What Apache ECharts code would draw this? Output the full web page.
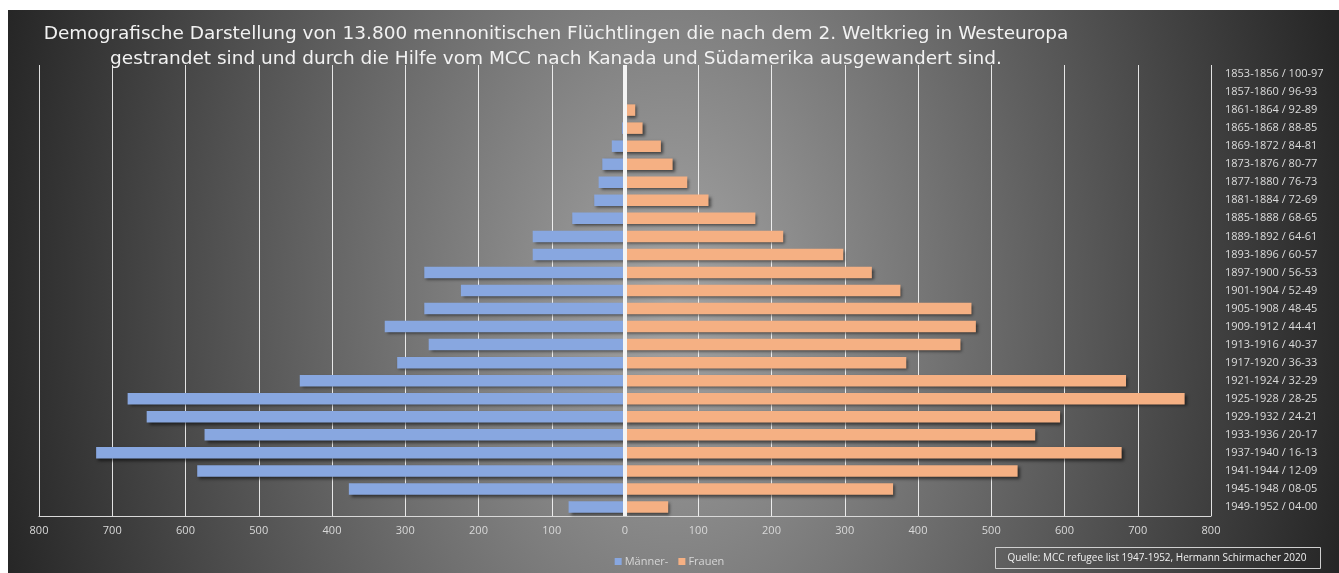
<!DOCTYPE html>
<html>
<head>
<meta charset="utf-8">
<script src="https://cdn.jsdelivr.net/npm/echarts@6/dist/echarts.min.js"></script>
<style>
  html, body { margin: 0; padding: 0; background: #ffffff; }
  #bg { position: absolute; left: 8px; top: 10px; width: 1331px; height: 563px;
        background: radial-gradient(ellipse 690px 1000px at 662px 290px, #a4a4a4 0%, #262626 100%); }
  #chart { position: absolute; left: 0; top: 0; width: 1339px; height: 573px; }
</style>
</head>
<body>
<div id="bg"></div>
<div id="chart"></div>
<script>
const categories = [
  '1853-1856 / 100-97', '1857-1860 / 96-93', '1861-1864 / 92-89', '1865-1868 / 88-85',
  '1869-1872 / 84-81', '1873-1876 / 80-77', '1877-1880 / 76-73', '1881-1884 / 72-69',
  '1885-1888 / 68-65', '1889-1892 / 64-61', '1893-1896 / 60-57', '1897-1900 / 56-53',
  '1901-1904 / 52-49', '1905-1908 / 48-45', '1909-1912 / 44-41', '1913-1916 / 40-37',
  '1917-1920 / 36-33', '1921-1924 / 32-29', '1925-1928 / 28-25', '1929-1932 / 24-21',
  '1933-1936 / 20-17', '1937-1940 / 16-13', '1941-1944 / 12-09', '1945-1948 / 08-05',
  '1949-1952 / 04-00'
];
const maenner = [0, 0, 0, 4, 18, 31, 36, 42, 72, 126, 126, 274, 224, 274, 328, 268, 311, 444, 679, 653, 574, 722, 584, 377, 77];
const frauen  = [0, 0, 14, 24, 49, 65, 85, 114, 178, 216, 298, 337, 376, 473, 479, 458, 384, 684, 764, 594, 560, 678, 536, 366, 59];
const xTicks = [-800, -700, -600, -500, -400, -300, -200, -100, 0, 100, 200, 300, 400, 500, 600, 700, 800];
const titleText = 'Demografische Darstellung von 13.800 mennonitischen Flüchtlingen die nach dem 2. Weltkrieg in Westeuropa\ngestrandet sind und durch die Hilfe vom MCC nach Kanada und Südamerika ausgewandert sind.';
const sourceText = 'Quelle: MCC refugee list 1947-1952, Hermann Schirmacher 2020';

const FONT = 'Open Sans';
const chart = echarts.init(document.getElementById('chart'));
const shadow = { shadowColor: 'rgba(0,0,0,0.55)', shadowBlur: 3, shadowOffsetX: 2, shadowOffsetY: 2 };

chart.setOption({
  backgroundColor: 'transparent',
  animation: false,
  title: {
    text: titleText,
    left: 551, top: 17,
    textAlign: 'center',
    textStyle: { fontFamily: 'DejaVu Sans', fontSize: 18.5, fontWeight: 'normal', color: '#f2f2f2', lineHeight: 25 }
  },
  legend: {
    data: ['Männer-', 'Frauen'],
    left: 'center', top: 551,
    icon: 'rect', itemWidth: 7, itemHeight: 7, itemGap: 10,
    textStyle: { fontFamily: FONT, fontSize: 11, color: '#d6d6d6', padding: [0, 0, 0, -2] }
  },
  grid: { left: 39, right: 128, top: 65, bottom: 57, containLabel: false },
  xAxis: {
    type: 'value', min: -800, max: 800, interval: 100,
    axisLine: { show: true, lineStyle: { color: '#d9d9d9', width: 1 } },
    axisTick: { show: false },
    axisLabel: {
      margin: 9, fontFamily: FONT, fontSize: 11, color: '#d9d9d9',
      formatter: v => String(Math.abs(v))
    },
    splitLine: { show: true, lineStyle: { color: 'rgba(255,255,255,0.85)', width: 1 } }
  },
  yAxis: {
    type: 'category', data: categories, inverse: true, position: 'right',
    axisLine: { show: false }, axisTick: { show: false },
    axisLabel: { margin: 14, fontFamily: FONT, fontSize: 11, color: '#dcdcdc' }
  },
  series: [
    {
      name: 'Männer-', type: 'bar', barWidth: 11.5, barGap: '-100%',
      data: maenner.map(v => -v),
      itemStyle: Object.assign({ color: '#88a7e0' }, shadow),
      markLine: {
        silent: true, symbol: 'none', label: { show: false },
        lineStyle: { color: '#f4f4f4', width: 4, type: 'solid' },
        data: [{ xAxis: 0 }], z: 10
      }
    },
    {
      name: 'Frauen', type: 'bar', barWidth: 11.5, barGap: '-100%',
      data: frauen,
      itemStyle: Object.assign({ color: '#f5b083' }, shadow)
    }
  ],
  graphic: [
    {
      type: 'rect', left: 995, top: 547, z: 100,
      shape: { width: 325, height: 21 },
      style: { fill: 'transparent', stroke: '#cfcfcf', lineWidth: 1 }
    },
    {
      type: 'text', x: 1157, y: 558, z: 100,
      style: { text: sourceText, fontFamily: FONT, fontSize: 10, fill: '#f0f0f0', align: 'center', verticalAlign: 'middle' }
    }
  ]
});
</script>
</body>
</html>
